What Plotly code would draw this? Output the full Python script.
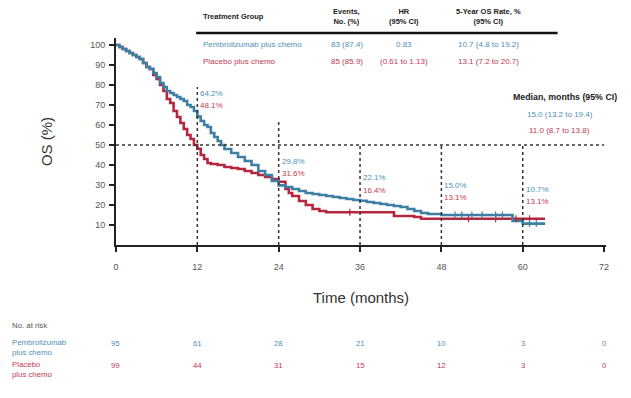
import numpy as np
import plotly.graph_objects as go

# ---------------- data ----------------
pembro_time = [0, 0.5, 1, 1.5, 2, 2.5, 3, 3.5, 4, 4.5, 5, 5.5, 6, 6.5, 7, 7.5, 8, 8.5, 9, 9.5, 10, 10.5, 11, 11.5,
               12, 12.5, 13, 13.5, 14, 14.5, 15, 15.5, 16, 17, 18, 19, 20, 21, 22, 23, 24,
               25, 26, 27, 28, 29, 30, 31, 32, 33, 34, 35, 36, 37, 38, 39, 40, 41, 42, 43, 44, 45, 46, 48,
               58.5, 60, 63.3]
pembro_surv = [100, 99, 98, 97, 96, 95, 94, 93, 91, 89, 88, 86, 84, 81, 79, 77, 76, 75, 74, 73, 72, 70, 69, 67,
               64.2, 62, 60, 59, 56, 54, 52, 50, 48, 46, 44, 42, 40, 37, 35, 32, 29.8,
               29, 28, 27, 26, 25.5, 25, 24.5, 24, 23.5, 23, 22.5, 22.1, 21.5, 21, 20.5, 20, 19.5, 19, 18, 17, 16, 15.5, 15.0,
               12.0, 10.7, 10.7]
placebo_time = [0, 0.5, 1, 1.5, 2, 2.5, 3, 3.5, 4, 4.5, 5, 5.5, 6, 6.5, 7, 7.5, 8, 8.5, 9, 9.5, 10, 10.5, 11, 11.5,
                12, 12.5, 13, 13.5, 14, 15, 16, 17, 18, 19, 20, 21, 22, 23, 24,
                25, 25.5, 26, 27, 28, 29, 30, 31, 41, 44, 45, 63.3]
placebo_surv = [100, 99, 98, 97, 96, 95, 94, 93, 91, 89, 88, 85, 83, 80, 77, 73, 71, 67, 64, 61, 58, 55, 53, 50,
                48.1, 45, 43, 41, 40.5, 40, 39, 38.5, 38, 37, 36, 35, 34, 33, 31.6,
                28, 26, 24.5, 22, 20, 18, 17, 16.4, 14.5, 14, 13.1, 13.1]
pembro_censor = [50, 51, 52.5, 54, 56, 57, 61, 62]
placebo_censor = [34.5, 52, 56, 59, 61]

landmark_months = [12, 24, 36, 48, 60]
pembro_landmark = [64.2, 29.8, 22.1, 15.0, 10.7]
placebo_landmark = [48.1, 31.6, 16.4, 13.1, 13.1]

x_ticks = [0, 12, 24, 36, 48, 60, 72]
y_ticks = [10, 20, 30, 40, 50, 60, 70, 80, 90, 100]
risk_pembro = [95, 61, 28, 21, 10, 3, 0]
risk_placebo = [99, 44, 31, 15, 12, 3, 0]

groups = ["Pembrolizumab plus chemo", "Placebo plus chemo"]
events = ["83 (87.4)", "85 (85.9)"]
hr_text = ["0.83", "(0.61 to 1.13)"]
rate5 = ["10.7 (4.8 to 19.2)", "13.1 (7.2 to 20.7)"]
median_text = ["15.0 (13.2 to 19.4)", "11.0 (8.7 to 13.8)"]

# ---------------- style ----------------
BLUE = "#3f7fa3"
RED = "#b3283f"
BLUE_T = "#4f90b8"
RED_T = "#c23a52"
GREY = "#555555"
FONT = "Liberation Sans"
OFF = 8                      # browser body margin
W, H = 631 - 2 * OFF, 398 - 2 * OFF

def px(x):
    return (x - OFF) / W

def py(y):
    return 1 - (y - OFF) / H

def step_at(times, surv, t):
    i = np.searchsorted(np.array(times), t, side="right") - 1
    return surv[max(i, 0)]

fig = go.Figure()

fig.add_trace(go.Scatter(x=placebo_time, y=placebo_surv, mode="lines", line_shape="hv",
                         line=dict(color=RED, width=2.6), showlegend=False, hoverinfo="skip"))
fig.add_trace(go.Scatter(x=pembro_time, y=pembro_surv, mode="lines", line_shape="hv",
                         line=dict(color=BLUE, width=2.6), showlegend=False, hoverinfo="skip"))
fig.add_trace(go.Scatter(x=placebo_censor, y=[step_at(placebo_time, placebo_surv, t) for t in placebo_censor],
                         mode="markers", marker=dict(symbol="line-ns-open", size=5, color=RED, line=dict(width=1.2, color=RED)),
                         showlegend=False, hoverinfo="skip"))
fig.add_trace(go.Scatter(x=pembro_censor, y=[step_at(pembro_time, pembro_surv, t) for t in pembro_censor],
                         mode="markers", marker=dict(symbol="line-ns-open", size=5, color=BLUE, line=dict(width=1.2, color=BLUE)),
                         showlegend=False, hoverinfo="skip"))

shapes = []
shapes.append(dict(type="line", xref="x", yref="y", x0=0, x1=72, y0=50, y1=50,
                   line=dict(color="#333333", width=1.5, dash="dot")))
vline_tops = [79, 62, 50, 50, 50]
label_y_blue = [76, 41.7, 33.7, 30, 28]
label_y_red = [70, 35.7, 27.5, 24, 22]
annotations = []
for m, top, yb, yr, pb, pl in zip(landmark_months, vline_tops, label_y_blue, label_y_red,
                                  pembro_landmark, placebo_landmark):
    shapes.append(dict(type="line", xref="x", yref="y", x0=m, x1=m, y0=0, y1=top,
                       line=dict(color="#333333", width=1.5, dash="dot")))
    annotations.append(dict(x=m, y=yb, xref="x", yref="y", text=f"{pb:.1f}%", showarrow=False,
                            xanchor="left", xshift=1, font=dict(size=8, color=BLUE_T, family=FONT)))
    annotations.append(dict(x=m, y=yr, xref="x", yref="y", text=f"{pl:.1f}%", showarrow=False,
                            xanchor="left", xshift=1, font=dict(size=8, color=RED_T, family=FONT)))

# table header
shapes.append(dict(type="line", xref="paper", yref="paper", x0=px(195), x1=px(560), y0=py(33), y1=py(33),
                   line=dict(color="#111111", width=2.5)))
hdr_font = dict(size=7.5, color="#222222", family=FONT)
hdr = [
    dict(x=px(200), y=py(17), text="<b>Treatment Group</b>", xanchor="left"),
    dict(x=px(347), y=py(17), text="<b>Events,<br>No. (%)</b>", xanchor="center"),
    dict(x=px(405), y=py(17), text="<b>HR<br>(95% CI)</b>", xanchor="center"),
    dict(x=px(490), y=py(17), text="<b>5-Year OS Rate, %<br>(95% CI)</b>", xanchor="center"),
]
for a in hdr:
    a.update(xref="paper", yref="paper", showarrow=False, yanchor="middle", font=hdr_font)
annotations += hdr

row_y = [45, 61]
row_col = [BLUE_T, RED_T]
for i in range(2):
    f = dict(size=8, color=row_col[i], family=FONT)
    for x, t, anc in [(200, groups[i], "left"), (347, events[i], "center"),
                      (405, hr_text[i], "center"), (490, rate5[i], "center")]:
        annotations.append(dict(x=px(x), y=py(row_y[i]), xref="paper", yref="paper", text=t,
                                showarrow=False, xanchor=anc, yanchor="middle", font=f))

# median block
annotations.append(dict(x=px(622), y=py(97), xref="paper", yref="paper", text="<b>Median, months (95% CI)</b>",
                        showarrow=False, xanchor="right", yanchor="middle", font=dict(size=8.8, color="#222222", family=FONT)))
for t, yy, c in zip(median_text, [114, 131], row_col):
    annotations.append(dict(x=px(562), y=py(yy), xref="paper", yref="paper", text=t, showarrow=False,
                            xanchor="center", yanchor="middle", font=dict(size=8, color=c, family=FONT)))

# number at risk
annotations.append(dict(x=px(8), y=py(325), xref="paper", yref="paper", text="No. at risk", showarrow=False,
                        xanchor="left", yanchor="middle", borderpad=0, font=dict(size=7.8, color=GREY, family=FONT)))
annotations.append(dict(x=px(8), y=py(347), xref="paper", yref="paper", text="Pembrolizumab<br>plus chemo",
                        showarrow=False, xanchor="left", yanchor="middle", align="left", borderpad=0,
                        font=dict(size=7.8, color=BLUE_T, family=FONT)))
annotations.append(dict(x=px(8), y=py(369), xref="paper", yref="paper", text="Placebo<br>plus chemo",
                        showarrow=False, xanchor="left", yanchor="middle", align="left", borderpad=0,
                        font=dict(size=7.8, color=RED_T, family=FONT)))
for r, yy, c in [(risk_pembro, 343, BLUE_T), (risk_placebo, 365, RED_T)]:
    for x, v in zip(x_ticks, r):
        annotations.append(dict(x=x, y=py(yy), xref="x", yref="paper", text=str(v), showarrow=False,
                                xanchor="center", yanchor="middle", font=dict(size=7.8, color=c, family=FONT)))

fig.update_layout(
    width=W, height=H, margin=dict(l=0, r=0, t=0, b=0),
    paper_bgcolor="white", plot_bgcolor="white",
    shapes=shapes, annotations=annotations,
    xaxis=dict(domain=[px(114), px(609)], range=[0, 72.3], tickvals=x_ticks, ticks="outside", ticklen=5,
               tickwidth=1.5, tickcolor="#222222", showline=True, linecolor="#222222", linewidth=2,
               showgrid=False, zeroline=False, tickfont=dict(size=9, color=GREY, family=FONT),
               ticklabelstandoff=7,
               title=dict(text="Time (months)", font=dict(size=15, color="#333333", family=FONT), standoff=22)),
    yaxis=dict(domain=[py(245), py(38)], range=[0, 103.5], tickvals=y_ticks, ticks="outside", ticklen=5,
               tickwidth=1.5, tickcolor="#222222", showline=True, linecolor="#222222", linewidth=2,
               showgrid=False, zeroline=False, tickfont=dict(size=9, color=GREY, family=FONT),
               ticklabelstandoff=2,
               title=dict(text="OS (%)", font=dict(size=15, color="#333333", family=FONT), standoff=34)),
)

fig.write_html("out.html")
